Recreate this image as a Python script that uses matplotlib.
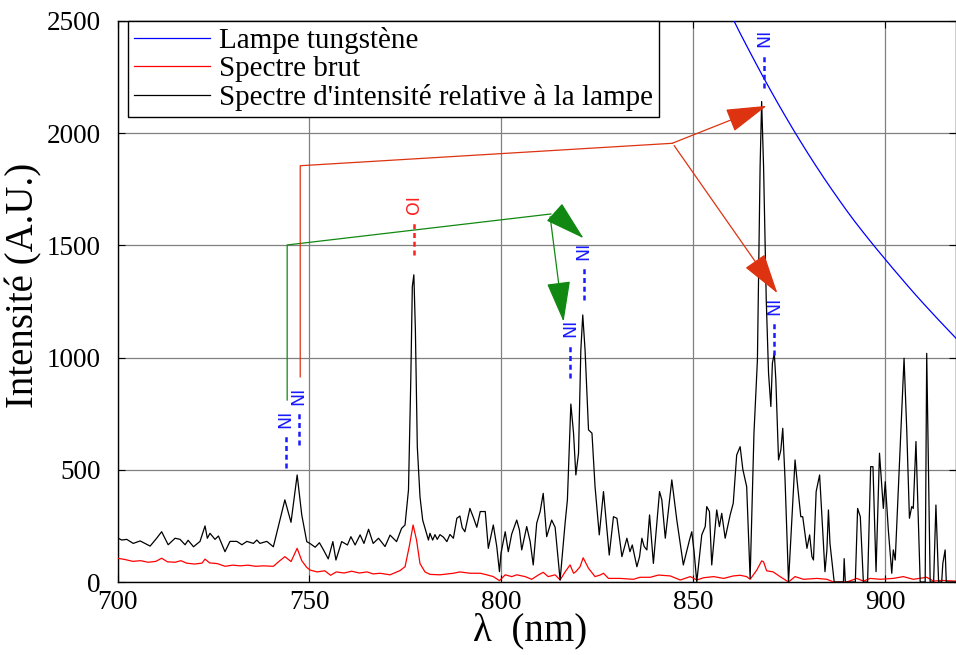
import matplotlib
matplotlib.use("Agg")
import matplotlib.pyplot as plt

plt.rcParams['font.family'] = ['Liberation Serif', 'DejaVu Serif']

# ---------------- data ----------------
wl_black = [700.0, 700.2, 701.1, 702.4, 704.1, 705.9, 708.5, 710.2, 711.5, 713.2, 715.0, 716.3, 717.6,
            718.4, 719.8, 721.5, 722.8, 723.4, 724.1, 725.4, 726.3, 728.0, 729.3, 731.1, 732.4, 733.7,
            735.4, 736.3, 737.1, 738.9, 740.6, 742.3, 743.6, 745.2, 746.8, 748.0, 749.3, 750.2, 751.5,
            752.6, 753.6, 754.9, 756.1, 756.9, 758.4, 759.9, 760.8, 761.9, 763.2, 764.2, 765.4, 766.6,
            768.0, 769.7, 771.0, 772.7, 774.0, 774.9, 775.8, 776.4, 776.8, 777.2, 777.6, 778.1, 778.8,
            779.5, 781.0, 781.4, 782.1, 782.7, 783.3, 784.0, 784.9, 785.8, 786.6, 787.5, 788.4, 789.2,
            789.8, 790.5, 791.8, 792.7, 793.6, 794.5, 795.8, 796.6, 797.9, 798.8, 799.5, 799.9, 801.0,
            801.8, 802.7, 804.0, 804.7, 805.3, 806.6, 807.5, 808.3, 809.2, 810.1, 810.9, 811.8, 813.1,
            814.0, 815.3, 816.6, 817.2, 818.1, 818.8, 819.4, 820.1, 820.7, 821.2, 821.8, 822.7, 823.6,
            824.4, 825.5, 826.6, 828.1, 829.2, 830.1, 831.4, 832.7, 833.5, 834.1, 835.3, 836.0, 836.6,
            837.2, 837.9, 838.6, 839.6, 841.2, 841.8, 842.7, 844.4, 845.7, 847.4, 849.0, 849.6, 850.2,
            850.9, 852.2, 853.1, 853.5, 854.2, 854.8, 856.1, 856.8, 857.4, 858.3, 859.6, 860.4, 861.3,
            862.2, 862.9, 863.9, 864.8, 865.8, 866.7, 867.4, 867.8, 868.3, 869.0, 869.6, 870.2, 870.6,
            871.1, 871.5, 872.2, 872.8, 873.3, 873.9, 874.8, 875.7, 876.5, 877.1, 878.0, 878.5, 879.6,
            880.3, 880.9, 881.3, 882.0, 882.9, 883.7, 884.3, 884.8, 885.2, 885.6, 886.7, 889.1, 889.3,
            889.6, 892.2, 892.8, 893.5, 894.3, 895.4, 896.2, 896.8, 897.6, 898.5, 899.1, 899.5, 900.0,
            900.8, 901.7, 902.1, 902.6, 904.9, 905.6, 906.3, 906.9, 907.3, 908.0, 909.1, 910.4, 910.8,
            911.7, 912.6, 913.2, 913.9, 914.7, 915.0, 915.6, 915.9, 918.3]
black = [190, 195, 187, 190, 172, 183, 160, 195, 224, 166, 195, 190, 166,
         186, 157, 181, 250, 195, 217, 190, 205, 135, 181, 181, 166, 181,
         172, 187, 172, 181, 157, 276, 366, 266, 477, 299, 180, 171, 155,
         175, 145, 103, 180, 98, 180, 165, 202, 165, 210, 172, 235, 172,
         195, 158, 209, 180, 239, 254, 410, 900, 1316, 1369, 1123, 603, 380,
         276, 187, 217, 187, 211, 190, 211, 200, 180, 212, 195, 284, 294,
         242, 224, 328, 288, 244, 314, 314, 150, 254, 158, 46, 128, 224,
         135, 214, 276, 232, 143, 247, 180, 76, 262, 314, 395, 202, 276,
         244, 9, 262, 366, 793, 663, 477, 574, 1034, 1190, 1034, 678, 663,
         425, 210, 403, 120, 291, 284, 113, 195, 135, 165, 68, 113, 195,
         158, 143, 299, 83, 403, 366, 195, 455, 276, 76, 187, 224, 135,
         0, 210, 247, 336, 314, 76, 321, 247, 306, 195, 299, 351, 566,
         603, 502, 425, 16, 663, 990, 1852, 2141, 1852, 1257, 930, 782, 975,
         1019, 900, 544, 588, 685, 455, 0, 291, 544, 440, 291, 291, 150,
         210, 113, 98, 403, 477, 232, 46, 143, 321, 172, 0, 0, 104,
         0, 0, 328, 291, 0, 0, 514, 514, 46, 574, 425, 328, 447,
         232, 39, 143, 98, 997, 678, 284, 336, 328, 626, 0, 0, 1019,
         0, 0, 343, 0, 0, 83, 143, 0, 0]

wl_red = [700.0, 702.0, 704.0, 706.0, 708.0, 710.0, 711.5, 713.0, 715.0, 716.5, 718.0, 720.0, 722.0,
          722.8, 724.0, 726.0, 728.0, 730.0, 732.0, 734.0, 736.0, 738.0, 740.6, 742.3, 743.6, 745.2,
          746.8, 748.0, 749.3, 750.2, 752.0, 754.0, 755.5, 757.0, 759.0, 761.0, 763.0, 765.0, 766.6,
          768.4, 771.0, 773.6, 774.9, 776.0, 777.0, 777.9, 778.8, 780.1, 781.4, 784.0, 787.5, 789.2,
          791.8, 794.5, 796.2, 797.9, 799.5, 801.0, 802.7, 804.0, 806.2, 807.9, 809.7, 810.9, 812.2,
          814.0, 815.3, 816.6, 817.9, 818.8, 819.4, 820.5, 821.3, 822.7, 824.4, 825.7, 826.6, 827.9,
          830.9, 834.4, 836.1, 838.8, 840.9, 844.0, 846.6, 849.2, 850.9, 852.7, 855.3, 857.9, 860.4,
          862.2, 863.9, 864.8, 866.5, 867.8, 868.3, 869.1, 870.8, 872.6, 874.8, 876.5, 878.7, 882.2,
          884.8, 886.5, 890.0, 892.6, 894.3, 896.1, 898.7, 902.1, 904.7, 907.3, 910.8, 912.6, 914.7,
          918.3]
red = [106, 100, 92, 95, 88, 92, 106, 90, 88, 95, 84, 80, 84,
       102, 85, 82, 70, 75, 72, 75, 70, 72, 70, 95, 113, 91,
       150, 95, 65, 53, 45, 50, 30, 45, 40, 48, 40, 45, 36,
       39, 32, 51, 68, 158, 254, 187, 82, 45, 34, 32, 39, 45,
       39, 39, 32, 24, 6, 32, 24, 32, 24, 12, 32, 43, 24,
       32, 9, 45, 76, 39, 46, 68, 108, 61, 24, 31, 39, 16,
       16, 12, 21, 21, 31, 27, 9, 24, 9, 19, 24, 16, 27,
       30, 24, 12, 52, 94, 90, 50, 45, 24, 0, 24, 12, 16,
       12, 0, 0, 16, 4, 16, 12, 16, 24, 12, 21, 4, 7,
       4]

wl_lamp = [858, 860, 862, 864, 866, 868, 870, 872, 874, 876, 878, 880, 882, 884, 886, 888, 890,
           892, 894, 896, 898, 900, 902, 904, 906, 908, 910, 912, 914, 916, 918, 918.5]
lamp = [2585, 2521, 2452, 2386, 2321, 2257, 2195, 2134, 2075, 2017, 1961, 1906, 1853, 1801, 1751,
        1702, 1654, 1608, 1564, 1521, 1479, 1438, 1397, 1357, 1317, 1278, 1240, 1203, 1166, 1130,
        1094, 1085]

series_labels = ["Lampe tungstène", "Spectre brut", "Spectre d'intensité relative à la lampe"]

# line annotations: label, wavelength, bottom of dashed line, top of dashed line
ann_labels = ["NI", "NI", "OI", "NI", "NI", "NI", "NI"]
ann_wl = [743.8, 747.2, 777.3, 817.9, 821.4, 868.4, 871.0]
ann_lo = [508, 611, 1458, 909, 1257, 2202, 1012]
ann_hi = [650, 753, 1605, 1056, 1400, 2349, 1155]
ann_colors = ["#1a1aff", "#1a1aff", "#ff2020", "#1a1aff", "#1a1aff", "#1a1aff", "#1a1aff"]

xticks = [700, 750, 800, 850, 900]
yticks = [0, 500, 1000, 1500, 2000, 2500]

# ---------------- figure ----------------
W, H = 956, 655
fig = plt.figure(figsize=(W / 100, H / 100), dpi=100)
ax = fig.add_axes([117.5 / W, 73 / H, 838 / W, 561 / H])

ax.plot(wl_lamp, lamp, color="#0000ff", lw=0.9, label=series_labels[0], zorder=3)
ax.plot(wl_red, red, color="#ff0000", lw=0.9, label=series_labels[1], zorder=3)
ax.plot(wl_black, black, color="black", lw=0.9, label=series_labels[2], zorder=3)

ax.set_xlim(700, 918.3)
ax.set_ylim(0, 2500)
ax.set_xticks(xticks)
ax.set_yticks(yticks)
ax.grid(True, color="#808080", lw=0.9)
ax.set_axisbelow(True)
ax.tick_params(direction="in", top=True, right=True, length=5, width=0.8,
               labelsize=19.5)
ax.tick_params(axis="y", pad=12)
ax.tick_params(axis="x", pad=6)
for s in ax.spines.values():
    s.set_linewidth(1.0)

ax.set_xlabel("λ  (nm)", fontsize=28)
ax.xaxis.set_label_coords((530 - 117.5) / 838, -0.055)
ax.set_ylabel("Intensité (A.U.)", fontsize=28)
ax.yaxis.set_label_coords((42 - 117.5) / 838, (582 - 285) / 561)

# annotations for spectral lines
for lab, w, lo, hi, c in zip(ann_labels, ann_wl, ann_lo, ann_hi, ann_colors):
    ax.plot([w, w], [lo, hi], color=c, lw=1.8, ls=(0, (2, 1.5)), zorder=4)
    ax.text(w, hi + 35, lab, rotation=90, ha="center", va="bottom", color=c,
            fontsize=12.5, family="DejaVu Sans", zorder=5)

arrow_style = "-|>,head_length=1.3,head_width=0.38"

# green bracket + arrows
g = "#118811"
ax.plot([744.2, 744.2, 812.9], [811, 1502, 1640], color=g, lw=0.9, zorder=4)
ax.annotate("", xy=(821.4, 1532), xytext=(814.0, 1645),
            arrowprops=dict(arrowstyle=arrow_style, color=g,
                            lw=0.9, shrinkA=0, shrinkB=0, mutation_scale=20), zorder=4)
ax.annotate("", xy=(816.2, 1160), xytext=(812.7, 1628),
            arrowprops=dict(arrowstyle=arrow_style, color=g,
                            lw=0.9, shrinkA=0, shrinkB=0, mutation_scale=20), zorder=4)

# red bracket + arrows
r = "#dd3311"
ax.plot([747.6, 747.6, 844.5], [914, 1855, 1955], color=r, lw=0.9, zorder=4)
ax.annotate("", xy=(869.1, 2122), xytext=(844.5, 1955),
            arrowprops=dict(arrowstyle=arrow_style, color=r,
                            lw=0.9, shrinkA=0, shrinkB=0, mutation_scale=20), zorder=4)
ax.annotate("", xy=(871.9, 1287), xytext=(845.0, 1945),
            arrowprops=dict(arrowstyle=arrow_style, color=r,
                            lw=0.9, shrinkA=0, shrinkB=0, mutation_scale=20), zorder=4)

leg = ax.legend(loc="upper left", bbox_to_anchor=((128 - 117.5) / 838, 1.0), fontsize=21,
                frameon=True, fancybox=False, edgecolor="black", framealpha=1,
                borderaxespad=0, handlelength=2.6, handletextpad=0.33, labelspacing=0.06,
                borderpad=0.2)
leg.get_frame().set_linewidth(1.0)
leg.set_zorder(6)

fig.savefig("out.png", dpi=100)
